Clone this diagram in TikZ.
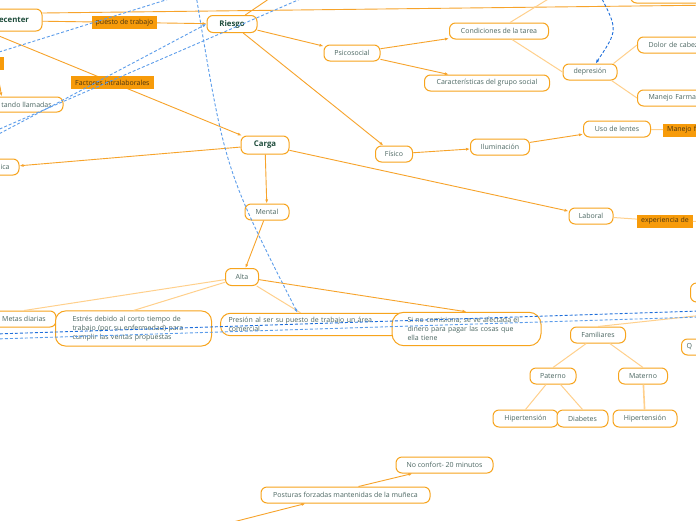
\documentclass[tikz,border=0pt]{standalone}
\usepackage{fontspec}
\setmainfont{Open Sans}
\usetikzlibrary{arrows.meta}

\definecolor{nodeborder}{HTML}{F7A41D}
\definecolor{linecolor}{HTML}{F7A32A}
\definecolor{palecolor}{HTML}{FFD08C}
\definecolor{relfill}{HTML}{F79B0A}
\definecolor{reltext}{HTML}{4A3410}
\definecolor{nodetext}{HTML}{4B6661}
\definecolor{maintext}{HTML}{1F4D3C}
\definecolor{linkdark}{HTML}{1F6FDB}
\definecolor{linklight}{HTML}{5C9DEB}

\begin{document}
\begin{tikzpicture}[
  x=1pt, y=-1pt,
  every node/.style={font=\fontsize{7}{9}\selectfont, text=nodetext},
  topic/.style={draw=nodeborder, line width=1pt, fill=white, rounded corners=6pt,
    inner xsep=4pt, inner ysep=2pt, minimum height=16pt},
  maintopic/.style={topic, font=\fontsize{7.8}{9}\selectfont\bfseries, text=maintext,
    minimum height=17pt},
  note/.style={topic, align=left, rounded corners=10pt, inner ysep=5pt},
  relation/.style={fill=relfill, text=reltext, inner xsep=4pt, inner ysep=2pt,
    minimum height=13pt},
  conn/.style={draw=linecolor, line width=0.9pt, -{Latex[length=4pt,width=3pt]}},
  plain/.style={draw=linecolor, line width=0.9pt},
  pale/.style={draw=palecolor, line width=1pt},
  link/.style={draw=linklight, line width=0.9pt, dash pattern=on 3pt off 2pt,
    -{Latex[length=4pt,width=3pt]}},
  darklink/.style={link, draw=linkdark}
]
\useasboundingbox (0,0) rectangle (696,520);
\clip (0,0) rectangle (696,520);
\fill[white] (0,0) rectangle (696,520);

% temas principales
\node[maintopic, minimum width=164pt, minimum height=22pt, text width=138pt,
  inner xsep=13pt, align=right] (ecenter) at (-40,20) {ecenter};
\node[maintopic, minimum width=50pt] (riesgo) at (232,24) {Riesgo};
\node[maintopic, minimum width=48pt, minimum height=18pt] (carga) at (265,145) {Carga};

% subtemas
\node[topic, minimum width=56pt] (psicosocial) at (352,53) {Psicosocial};
\node[topic, minimum width=99pt] (condiciones) at (499,31) {Condiciones de la tarea};
\node[topic, minimum width=125pt] (grupo) at (487,83) {Características del grupo social};
\node[topic, minimum width=54pt] (depresion) at (590,72) {depresión};
\node[topic, anchor=west, text width=62pt, align=left, inner xsep=11pt] (dolor) at (637,45) {Dolor de cabez};
\node[topic, anchor=west, text width=62pt, align=left, inner xsep=11pt] (farma) at (637,98) {Manejo Farma};
\node[topic, anchor=west, minimum width=80pt, minimum height=18pt] (arriba) at (630,-6) {};
\node[topic, minimum width=37pt] (fisico) at (394,154) {Físico};
\node[topic, minimum width=59pt] (iluminacion) at (500,147) {Iluminación};
\node[topic, minimum width=67pt] (lentes) at (617,129) {Uso de lentes};
\node[topic, minimum width=44pt] (laboral) at (591,216) {Laboral};
\node[topic, minimum width=44pt] (mental) at (267,212) {Mental};
\node[topic, minimum width=33pt, minimum height=17pt] (alta) at (242,277) {Alta};
\node[topic, minimum width=28pt] (ica) at (5,167) {ica};
\node[topic, minimum width=73pt, minimum height=15pt] (llamadas) at (26.5,104.5) {tando llamadas};
\node[topic, minimum width=64pt] (metas) at (24,319) {Metas diarias};
\node[note, text width=122pt, inner xsep=17pt] (estres) at (133.5,328.5)
  {Estrés debido al corto tiempo de\\trabajo (por su enfermedad) para\\cumplir las ventas propuestas};
\node[note, text width=176pt, inner xsep=8pt, inner ysep=4pt] (presion) at (316.5,324.5)
  {Presión al ser su puesto de trabajo un área\\comercial};
\node[note, text width=118pt, inner xsep=15.5pt, rounded corners=12pt] (sino) at (466.5,329)
  {Si no comisiona, se ve afectada el\\dinero para pagar las cosas que\\ella tiene};
\node[topic, minimum width=55pt] (familiares) at (598,335) {Familiares};
\node[topic, minimum width=46pt] (paterno) at (553,376) {Paterno};
\node[topic, minimum width=49pt] (materno) at (643,376) {Materno};
\node[topic, minimum width=65pt, minimum height=17pt] (hiperp) at (525.5,418.5) {Hipertensión};
\node[topic, minimum width=51pt, minimum height=17pt] (diabetes) at (582.5,418.5) {Diabetes};
\node[topic, minimum width=64pt, minimum height=17pt] (hiperm) at (645,418.5) {Hipertensión};
\node[topic, anchor=west, minimum width=40pt, minimum height=19pt] (derecha) at (690,292.5) {};
\node[topic, anchor=west, text width=22pt, align=left, inner xsep=5pt] (q) at (681,347) {Q};
\node[topic, minimum width=97pt] (noconfort) at (444.5,465) {No confort- 20 minutos};
\node[topic, minimum width=169pt] (posturas) at (345.5,495) {Posturas forzadas mantenidas de la muñeca};

% etiquetas sueltas
\node[relation, minimum width=20pt] (etiqueta) at (-6,63) {};
\node[relation] (experiencia) at (665,221) {experiencia de};
\node[relation, anchor=west, text width=40pt, align=left] (manejofa) at (663,130) {Manejo fa};

% extremos fuera del cuadro
\coordinate (fueraTop) at (720,5);
\coordinate (fueraRiesgo) at (282,-10);
\coordinate (fueraCond) at (563,-10);
\coordinate (fueraExp) at (760,222);
\coordinate (fueraFam) at (760,309);
\coordinate (fueraPost) at (190,533);

% conectores
\draw[conn] (ecenter) -- node[relation, pos=0.5] {puesto de trabajo} (riesgo);
\draw[conn] (ecenter) -- node[relation, pos=0.49] {Factores intralaborales} (carga);
\draw[plain] ([yshift=-4.5pt]ecenter.north east) -- (fueraTop);
\draw[plain] (riesgo) -- (fueraRiesgo);
\draw[conn] (etiqueta) .. controls (0,86) .. ([xshift=12pt]llamadas.north west);
\draw[conn] (riesgo) -- (psicosocial);
\draw[conn] (riesgo) -- (fisico);
\draw[conn] (psicosocial) -- (condiciones);
\draw[conn] (psicosocial) -- (grupo);
\draw[pale] ([xshift=11pt]condiciones.north) -- (fueraCond);
\draw[pale] ([xshift=13pt]condiciones.south) -- (depresion.west);
\draw[pale] ([xshift=-4pt]depresion.north east) -- (dolor.west);
\draw[pale] ([xshift=-6pt]depresion.south east) -- (farma.west);
\draw[conn] (fisico) -- (iluminacion);
\draw[conn] (iluminacion) -- (lentes);
\draw[pale] (lentes) -- (manejofa);
\draw[conn] (carga) -- (ica);
\draw[conn] (carga) -- (mental);
\draw[conn] (carga) -- (laboral);
\draw[pale] (laboral) -- (experiencia);
\draw[pale] (experiencia) -- (fueraExp);
\draw[conn] (mental) -- (alta);
\draw[pale] (alta) -- (metas.north);
\draw[pale] (alta) -- (estres.north);
\draw[pale] (alta) -- ([xshift=-16pt]presion.north);
\draw[conn] (alta) -- (sino.north);
\draw[pale] (fueraFam) -- (familiares.north);
\draw[pale] (familiares) -- (paterno.north);
\draw[pale] (familiares) -- (materno.north);
\draw[pale] (paterno) -- (hiperp.north);
\draw[pale] (paterno) -- (diabetes.north);
\draw[pale, line width=1.6pt] (materno) -- (hiperm);
\draw[conn] (fueraPost) -- ([xshift=-40pt]posturas.south);
\draw[conn] ([xshift=13pt]posturas.north) -- ([xshift=-32pt]noconfort.south);

% enlaces punteados
\coordinate (a1) at (-20,58);
\coordinate (a2) at (185,-6);
\coordinate (b1) at (-5,136);
\coordinate (c1) at (-5,131);
\coordinate (c2) at (305,-3);
\coordinate (p1) at (196,-5);
\coordinate (d1) at (600,-5);
\coordinate (h1) at (-5,334);
\coordinate (h2) at (700,311);
\coordinate (h3) at (-5,339);
\coordinate (h4) at (700,317);
\draw[link, -] (a1) -- (a2);
\draw[link] (b1) -- (riesgo.west);
\draw[link, -] (c1) -- (c2);
\draw[link] (p1) .. controls (225,170) .. ([xshift=-19pt]presion.north);
\draw[darklink] (d1) .. controls (618,30) .. (depresion);
\draw[darklink, -] (h1) -- (h2);
\draw[link, -] (h3) -- (h4);
\end{tikzpicture}
\end{document}
